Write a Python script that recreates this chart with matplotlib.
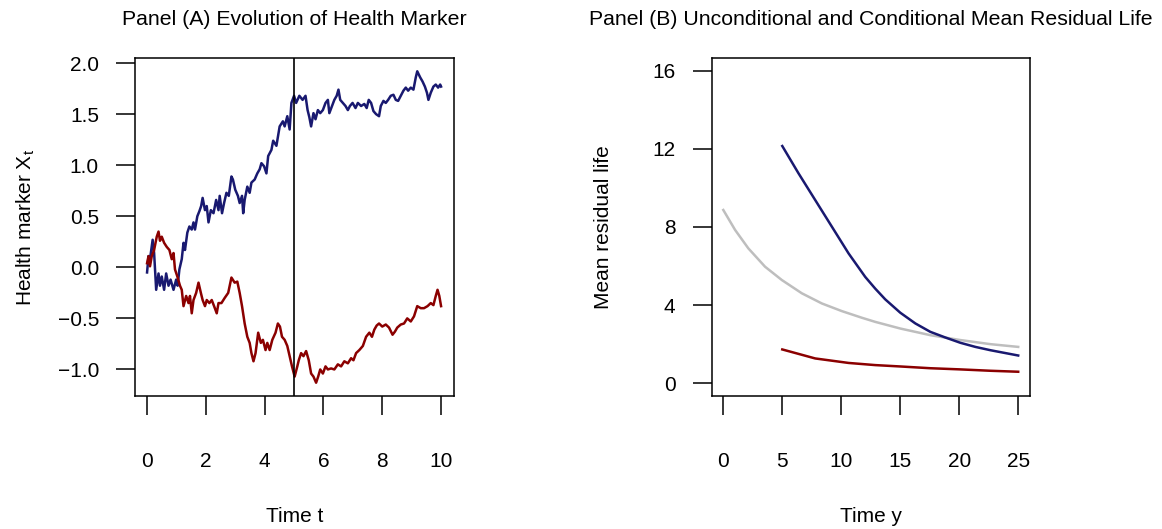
import matplotlib
matplotlib.use("Agg")
import matplotlib.pyplot as plt

plt.rcParams['font.family'] = ['Liberation Sans', 'DejaVu Sans']

# Panel A: two simulated health marker paths
t_blue = [0.0, 0.05, 0.10, 0.19, 0.24, 0.31, 0.39, 0.44, 0.50, 0.58, 0.65, 0.73, 0.80, 0.90,
          0.99, 1.04, 1.10, 1.18, 1.24, 1.29, 1.37, 1.44, 1.52, 1.58, 1.63, 1.71, 1.78, 1.84,
          1.89, 1.97, 2.03, 2.09, 2.17, 2.26, 2.35, 2.43, 2.47, 2.55, 2.62, 2.70, 2.78, 2.87,
          2.92, 3.00, 3.09, 3.15, 3.23, 3.27, 3.32, 3.41, 3.49, 3.55, 3.66, 3.75, 3.83, 3.89,
          3.98, 4.06, 4.12, 4.23, 4.29, 4.40, 4.51, 4.62, 4.68, 4.77, 4.85, 4.91, 5.00, 5.07,
          5.18, 5.29, 5.39, 5.46, 5.52, 5.58, 5.66, 5.73, 5.81, 5.89, 5.98, 6.07, 6.15, 6.20,
          6.29, 6.37, 6.45, 6.51, 6.57, 6.66, 6.75, 6.83, 6.90, 6.99, 7.09, 7.17, 7.28, 7.39,
          7.47, 7.54, 7.62, 7.70, 7.79, 7.89, 7.95, 8.04, 8.12, 8.20, 8.29, 8.38, 8.46, 8.54,
          8.63, 8.72, 8.80, 8.88, 8.97, 9.06, 9.14, 9.19, 9.29, 9.37, 9.45, 9.52, 9.57, 9.65,
          9.74, 9.82, 9.90, 9.97, 10.0]
x_blue = [-0.05, 0.11, 0.08, 0.27, 0.14, -0.22, -0.06, -0.18, -0.09, -0.22, -0.06, -0.18, -0.12, -0.22,
          -0.12, -0.18, -0.02, 0.08, 0.24, 0.17, 0.34, 0.40, 0.37, 0.44, 0.37, 0.50, 0.55, 0.60,
          0.68, 0.56, 0.60, 0.44, 0.56, 0.53, 0.66, 0.56, 0.70, 0.53, 0.63, 0.73, 0.70, 0.89,
          0.86, 0.76, 0.70, 0.63, 0.70, 0.53, 0.66, 0.79, 0.73, 0.83, 0.86, 0.92, 0.96, 1.02,
          0.99, 0.92, 1.09, 1.15, 1.24, 1.19, 1.38, 1.43, 1.38, 1.48, 1.35, 1.61, 1.68, 1.61,
          1.68, 1.64, 1.68, 1.54, 1.47, 1.38, 1.51, 1.45, 1.54, 1.51, 1.54, 1.61, 1.64, 1.51,
          1.58, 1.64, 1.68, 1.74, 1.64, 1.61, 1.58, 1.54, 1.58, 1.61, 1.56, 1.61, 1.58, 1.60,
          1.56, 1.64, 1.61, 1.53, 1.50, 1.48, 1.58, 1.63, 1.61, 1.64, 1.68, 1.69, 1.64, 1.63,
          1.68, 1.73, 1.76, 1.73, 1.76, 1.74, 1.86, 1.92, 1.86, 1.82, 1.77, 1.71, 1.64, 1.71,
          1.77, 1.79, 1.76, 1.79, 1.77]

t_red = [0.0, 0.05, 0.10, 0.16, 0.24, 0.33, 0.39, 0.44, 0.50, 0.58, 0.67, 0.76, 0.84, 0.90,
         0.95, 1.03, 1.12, 1.18, 1.24, 1.33, 1.41, 1.46, 1.52, 1.58, 1.67, 1.75, 1.83, 1.89,
         1.97, 2.03, 2.12, 2.20, 2.28, 2.37, 2.43, 2.53, 2.64, 2.76, 2.87, 2.98, 3.07, 3.15,
         3.23, 3.32, 3.41, 3.49, 3.55, 3.62, 3.69, 3.78, 3.87, 3.94, 4.03, 4.09, 4.17, 4.26,
         4.37, 4.45, 4.52, 4.59, 4.68, 4.77, 4.85, 4.93, 5.02, 5.11, 5.16, 5.24, 5.32, 5.41,
         5.50, 5.58, 5.66, 5.75, 5.82, 5.89, 5.98, 6.07, 6.15, 6.26, 6.37, 6.49, 6.60, 6.71,
         6.83, 6.94, 7.02, 7.11, 7.22, 7.34, 7.45, 7.56, 7.65, 7.73, 7.81, 7.89, 8.00, 8.12,
         8.23, 8.35, 8.43, 8.51, 8.63, 8.74, 8.85, 8.97, 9.08, 9.19, 9.31, 9.42, 9.54, 9.65,
         9.74, 9.82, 9.88, 9.94, 10.0]
x_red = [0.04, 0.11, 0.01, 0.11, 0.17, 0.30, 0.35, 0.26, 0.30, 0.24, 0.20, 0.17, 0.08, 0.14,
         -0.02, -0.09, -0.18, -0.22, -0.38, -0.28, -0.35, -0.28, -0.45, -0.32, -0.25, -0.15, -0.25, -0.32,
         -0.38, -0.32, -0.35, -0.32, -0.38, -0.45, -0.35, -0.35, -0.30, -0.25, -0.10, -0.15, -0.14, -0.25,
         -0.38, -0.55, -0.68, -0.74, -0.84, -0.92, -0.84, -0.64, -0.74, -0.71, -0.81, -0.74, -0.81, -0.71,
         -0.64, -0.55, -0.58, -0.68, -0.71, -0.77, -0.87, -0.97, -1.07, -0.97, -0.91, -0.84, -0.87, -0.82,
         -0.91, -1.04, -1.07, -1.13, -1.07, -1.00, -1.04, -0.97, -1.00, -0.99, -1.00, -0.95, -0.97, -0.92,
         -0.94, -0.89, -0.91, -0.84, -0.81, -0.77, -0.68, -0.64, -0.68, -0.61, -0.57, -0.55, -0.58, -0.56,
         -0.59, -0.66, -0.63, -0.59, -0.56, -0.55, -0.50, -0.53, -0.48, -0.38, -0.40, -0.40, -0.38, -0.35,
         -0.37, -0.28, -0.22, -0.28, -0.38]
t_cut = 5

# Panel B: mean residual life, unconditional and given the marker at t = 5
y_uncond = [0, 1, 2.12, 3.54, 4.96, 6.66, 8.36, 10.05, 11.75, 12.88, 15, 17.55, 20.1, 22.65, 25]
mrl_uncond = [8.87, 7.85, 6.91, 5.97, 5.29, 4.61, 4.09, 3.70, 3.36, 3.15, 2.81, 2.47, 2.22, 2.01, 1.87]
y_high = [5, 6.37, 7.79, 9.2, 10.62, 12.03, 12.88, 13.73, 15, 16.28, 17.55, 18.83, 20.1, 21.37, 22.65, 25]
mrl_high = [12.14, 10.75, 9.38, 8.02, 6.65, 5.45, 4.85, 4.30, 3.62, 3.07, 2.64, 2.35, 2.08, 1.87, 1.70, 1.43]
y_low = [5, 7.79, 10.62, 12.88, 15, 17.55, 20.1, 22.65, 25]
mrl_low = [1.74, 1.28, 1.05, 0.94, 0.87, 0.78, 0.72, 0.65, 0.60]

navy = '#191970'
dred = '#8b0000'
grey = '#bebebe'
fs = 15

W, H = 1162, 529
fig = plt.figure(figsize=(W / 100, H / 100), dpi=100)

def box(l, r, t, b):
    return [l / W, (H - b) / H, (r - l) / W, (b - t) / H]

def style(ax):
    for s in ax.spines.values():
        s.set_linewidth(1.1)
    ax.tick_params(axis='both', direction='out', length=14, width=1.1, labelsize=fs)
    ax.tick_params(axis='x', pad=26)
    ax.tick_params(axis='y', pad=12)

ax1 = fig.add_axes(box(135, 454, 58, 396))
ax1.plot(t_blue, x_blue, color=navy, lw=1.8)
ax1.plot(t_red, x_red, color=dred, lw=1.8)
ax1.axvline(t_cut, color='black', lw=1.2)
ax1.set_xlim(-0.41, 10.44)
ax1.set_ylim(-1.26, 2.05)
ax1.set_xticks([0, 2, 4, 6, 8, 10])
ax1.set_yticks([-1.0, -0.5, 0.0, 0.5, 1.0, 1.5, 2.0])
ax1.set_yticklabels(['\u22121.0', '\u22120.5', '0.0', '0.5', '1.0', '1.5', '2.0'])
style(ax1)
ax1.set_xlabel('Time t', fontsize=fs, labelpad=26)
ax1.set_ylabel('Health marker X$_\\mathregular{t}$', fontsize=fs, labelpad=15)
ax1.set_title('Panel (A) Evolution of Health Marker', fontsize=15.3, pad=24)

ax2 = fig.add_axes(box(711.5, 1030, 58, 396))
ax2.plot(y_uncond, mrl_uncond, color=grey, lw=1.8)
ax2.plot(y_high, mrl_high, color=navy, lw=1.8)
ax2.plot(y_low, mrl_low, color=dred, lw=1.8)
ax2.set_xlim(-1, 26)
ax2.set_ylim(-0.64, 16.64)
ax2.set_xticks([0, 5, 10, 15, 20, 25])
ax2.set_yticks([0, 4, 8, 12, 16])
style(ax2)
ax2.set_xlabel('Time y', fontsize=fs, labelpad=26)
ax2.set_ylabel('Mean residual life', fontsize=fs, labelpad=28)
ax2.set_title('Panel (B) Unconditional and Conditional Mean Residual Life', fontsize=15.3, pad=24)

fig.savefig('out.png', dpi=100)
